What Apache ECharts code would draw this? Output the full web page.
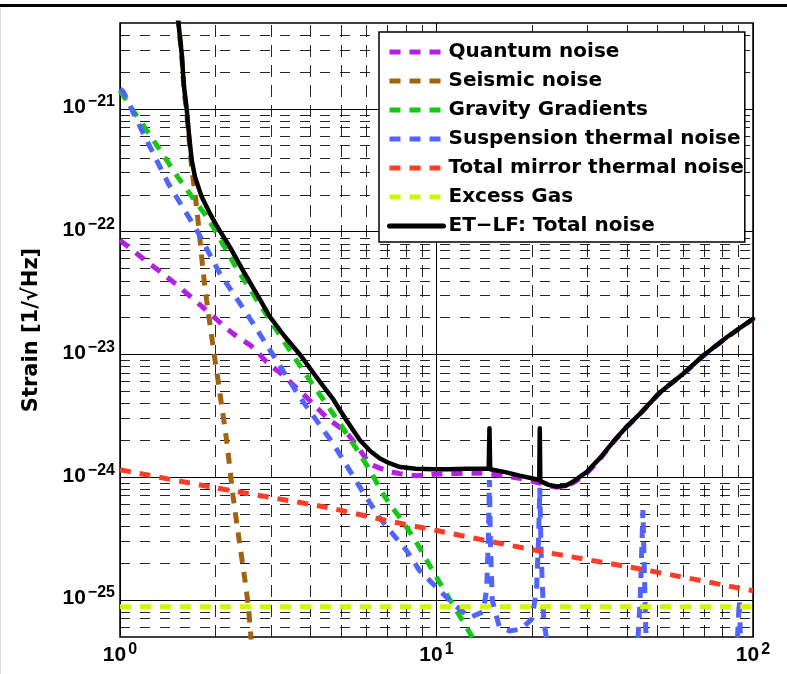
<!DOCTYPE html>
<html>
<head>
<meta charset="utf-8">
<script src="https://cdn.jsdelivr.net/npm/echarts@6/dist/echarts.min.js"></script>
<style>
  html, body { margin: 0; padding: 0; background: #fff; }
  #chart { width: 787px; height: 674px; }
</style>
</head>
<body>
<div id="chart"></div>
<script>
// ---- data (frequency in Hz, strain in 1/sqrt(Hz)) ----
const quantumF = [1, 1.182, 1.491, 1.828, 2.274, 2.632, 2.917, 3.2, 3.626, 4.07, 4.51, 5.22, 5.74, 6.17, 6.97, 7.66, 8.66, 10.0, 13.7, 18.3, 20.7, 24, 27, 29.8, 33, 36.2, 40, 44, 50.9, 60.2, 69.7, 82.6, 100];
const quantumH = [8.5e-23, 6.05e-23, 3.79e-23, 2.42e-23, 1.48e-23, 1.14e-23, 8.6e-24, 7.1e-24, 5.3e-24, 3.98e-24, 3.06e-24, 2.27e-24, 1.65e-24, 1.29e-24, 1.13e-24, 1.07e-24, 1.03e-24, 1.06e-24, 1.08e-24, 9.8e-25, 9.1e-25, 8.3e-25, 9.0e-25, 1.08e-24, 1.43e-24, 1.93e-24, 2.58e-24, 3.28e-24, 4.9e-24, 6.95e-24, 9.75e-24, 1.37e-23, 1.94e-23];

const seismicF = [1.5, 1.53, 1.566, 1.593, 1.624, 1.655, 1.685, 1.72, 1.755, 1.79, 1.835, 1.879, 1.972, 2.069, 2.172, 2.275, 2.394, 2.483, 2.544, 2.594, 2.62];
const seismicH = [8.3e-21, 4.9e-21, 2.75e-21, 1.45e-21, 9.4e-22, 5.4e-22, 3.3e-22, 2.2e-22, 1.4e-22, 8.5e-23, 4.5e-23, 2.75e-23, 1.12e-23, 4.81e-24, 1.99e-24, 7.1e-25, 2.77e-25, 1.44e-25, 8.8e-26, 4.9e-26, 3.5e-26];

const gravityF = [1.0, 1.099, 1.306, 1.548, 1.925, 2.337, 3.127, 3.98, 4.96, 6.17, 6.78, 8.45, 10.0, 13.0, 14.0];
const gravityH = [1.4e-21, 9.75e-22, 5.06e-22, 2.62e-22, 1.2e-22, 5.03e-23, 1.57e-23, 6.14e-24, 2.72e-24, 1.13e-24, 7.3e-25, 3.24e-25, 1.53e-25, 4.96e-26, 3.5e-26];

const suspensionF = [1.0, 1.024, 1.171, 1.421, 1.747, 2.069, 2.515, 2.98, 3.7, 4.72, 5.73, 6.6, 7.13, 8.05, 8.85, 10.0, 11.3, 12.75, 14.0, 14.4, 14.6, 14.7, 14.8, 15.0, 15.8, 17.0, 18.5, 20.0, 20.7, 21.0, 21.2, 21.4, 21.8, 22.5, 30, 43, 44, 44.5, 44.9, 45.3, 45.8, 46.5, 60, 85, 89, 90.5, 91.5, 100];
const suspensionH = [1.45e-21, 1.38e-21, 6.7e-22, 2.46e-22, 1.03e-22, 4.55e-23, 2.15e-23, 1.08e-23, 4.49e-24, 1.87e-24, 8.28e-25, 4.7e-25, 3.67e-25, 2.52e-25, 1.73e-25, 1.27e-25, 9.3e-26, 7.2e-26, 8.0e-26, 1.2e-25, 3.5e-25, 9.5e-25, 3.0e-25, 1.0e-25, 6.0e-26, 5.6e-26, 5.8e-26, 7.0e-26, 1.2e-25, 3.0e-25, 8.2e-25, 2.5e-25, 7e-26, 4e-26, 2.5e-26, 3.5e-26, 1.0e-25, 2.5e-25, 5.4e-25, 2e-25, 6e-26, 3e-26, 2e-26, 2e-26, 4e-26, 1.0e-25, 4e-26, 2e-26];

const mirrorF = [1, 2, 4.47, 6.6, 10, 21.2, 44, 100];
const mirrorH = [1.15e-24, 8.2e-25, 5.7e-25, 4.57e-25, 3.68e-25, 2.5e-25, 1.79e-25, 1.19e-25];

const gasF = [1, 10, 100];
const gasH = [8.8e-26, 8.8e-26, 8.8e-26];

const totalF = [1.50, 1.53, 1.566, 1.593, 1.624, 1.655, 1.685, 1.726, 1.812, 1.925, 2.02, 2.23, 2.45, 2.77, 2.98, 3.3, 3.7, 4.2, 4.72, 5.2, 5.73, 6.2, 6.63, 7.1, 7.67, 8.6, 9.73, 11, 12.5, 14.62, 14.7, 14.78, 16.5, 18.3, 20.0, 21.12, 21.2, 21.28, 22.5, 24.0, 25.5, 27, 29.8, 33, 36.2, 40, 44, 50.9, 60.2, 69.7, 82.6, 100];
const totalH = [8.5e-21, 5.0e-21, 2.83e-21, 1.51e-21, 1.0e-21, 5.9e-22, 3.82e-22, 2.79e-22, 1.92e-22, 1.40e-22, 1.12e-22, 7.4e-23, 4.8e-23, 2.8e-23, 2.01e-23, 1.42e-23, 1.0e-23, 6.4e-24, 4.3e-24, 2.9e-24, 2.0e-24, 1.62e-24, 1.42e-24, 1.3e-24, 1.21e-24, 1.17e-24, 1.16e-24, 1.16e-24, 1.17e-24, 1.17e-24, 2.5e-24, 1.16e-24, 1.1e-24, 1.03e-24, 9.8e-25, 9.5e-25, 2.5e-24, 9.3e-25, 8.7e-25, 8.4e-25, 8.5e-25, 9.2e-25, 1.1e-24, 1.45e-24, 1.95e-24, 2.6e-24, 3.3e-24, 4.93e-24, 6.97e-24, 9.8e-24, 1.38e-23, 1.95e-23];

// axis ranges and gridline positions
const xMin = 1, xMax = 100;
const yMin = 5e-26, yMax = 5e-21;
const xMinorTicks = [2, 3, 4, 5, 6, 7, 8, 9, 20, 30, 40, 50, 60, 70, 80, 90];
const yMinorMantissas = [2, 3, 4, 5, 6, 7, 8, 9];
const yDecades = [-26, -25, -24, -23, -22, -21];

const seriesNames = ['Quantum noise', 'Seismic noise', 'Gravity Gradients', 'Suspension thermal noise', 'Total mirror thermal noise', 'Excess Gas', 'ET\u2212LF: Total noise'];
const seriesColors = ['#B41EE6', '#A0640F', '#14C814', '#5064FF', '#FF3C28', '#D2F500', '#000000'];

// ---- build ----
function pairs(xs, ys) { return xs.map((x, i) => [x, ys[i]]); }

// minor gridline positions on the helper (exponent) axis
const yMinorExp = [];
yDecades.forEach(e => yMinorMantissas.forEach(m => {
  const v = m * Math.pow(10, e);
  if (v > yMin * 1.01 && v < yMax * 0.99) yMinorExp.push(e + Math.log10(m));
}));

function powLabel(v) {
  if (!(v > 0) || !isFinite(v)) return '';
  const e = Math.log10(v);
  const r = Math.round(e);
  if (Math.abs(e - r) > 1e-6) return '';
  const s = r < 0 ? '\u2212' + (-r) : String(r);
  return '{b|10}{e|' + s + '}';
}
const labelRich = {
  b: { fontFamily: 'Liberation Sans', fontWeight: 'bold', fontSize: 21, lineHeight: 24, color: '#000', verticalAlign: 'bottom' },
  e: { fontFamily: 'Liberation Sans', fontWeight: 'bold', fontSize: 16, lineHeight: 16, color: '#000', verticalAlign: 'top', padding: [0, 0, 14, 2] }
};

const dataSets = [
  pairs(quantumF, quantumH),
  pairs(seismicF, seismicH),
  pairs(gravityF, gravityH),
  pairs(suspensionF, suspensionH),
  pairs(mirrorF, mirrorH),
  pairs(gasF, gasH),
  pairs(totalF, totalH)
];

const series = dataSets.map((d, i) => ({
  name: seriesNames[i],
  type: 'line',
  data: d,
  symbol: 'none',
  showSymbol: false,
  animation: false,
  silent: true,
  smooth: (i === 3 || i === 6) ? false : 0.25,
  z: 2,
  lineStyle: i === 6
    ? { color: seriesColors[i], width: 4.5, type: 'solid', cap: 'round', join: 'round' }
    : { color: seriesColors[i], width: 5, type: [11, 9], cap: 'butt' },
  itemStyle: { color: seriesColors[i] }
}));

// minor dashed grid lines
series.unshift({
  name: '__grid',
  type: 'line',
  data: [],
  yAxisIndex: 1,
  z: 1,
  silent: true,
  animation: false,
  markLine: {
    z: 1,
    silent: true,
    animation: false,
    symbol: ['none', 'none'],
    label: { show: false },
    emphasis: { disabled: true },
    data: xMinorTicks.map(v => ({ xAxis: v, lineStyle: { type: [12, 8] } }))
      .concat(yMinorExp.map(v => ({ yAxis: v, lineStyle: { type: [10, 10] } }))),
    lineStyle: { color: '#000', width: 1, opacity: 0.85 }
  }
});

const chart = echarts.init(document.getElementById('chart'), null, { renderer: 'canvas' });
chart.setOption({
  animation: false,
  backgroundColor: '#fff',
  grid: {
    left: 120, right: 34, top: 23, bottom: 37,
    show: true, borderColor: '#000', borderWidth: 1.5, backgroundColor: '#fff',
    containLabel: false, outerBoundsMode: 'none'
  },
  xAxis: {
    type: 'log', logBase: 10, min: xMin, max: xMax,
    axisLine: { show: false },
    axisTick: { show: false },
    splitLine: { show: true, lineStyle: { color: '#000', width: 1, type: 'solid' } },
    minorTick: { show: false },
    axisLabel: { formatter: powLabel, rich: labelRich, margin: 5, verticalAlign: 'top' }
  },
  yAxis: [{
    type: 'log', logBase: 10, min: yMin, max: yMax,
    name: 'Strain [1/\u221AHz]',
    nameLocation: 'middle',
    nameGap: 78,
    nameMoveOverlap: false,
    nameTextStyle: { fontFamily: 'DejaVu Sans', fontWeight: 'bold', fontSize: 21, color: '#000' },
    axisLine: { show: false },
    axisTick: { show: false },
    splitLine: { show: true, lineStyle: { color: '#000', width: 1, type: 'solid' } },
    minorTick: { show: false },
    axisLabel: { formatter: powLabel, rich: labelRich, margin: 5, padding: [0, 0, 6, 0] }
  }, {
    type: 'value', min: Math.log10(yMin), max: Math.log10(yMax), show: false,
    splitLine: { show: false }, axisLabel: { show: false }
  }],
  legend: {
    show: true,
    z: 20,
    data: seriesNames,
    orient: 'vertical',
    left: 379, top: 32,
    align: 'left',
    padding: [10, 1, 6, 8],
    itemGap: 9,
    itemWidth: 54,
    itemHeight: 14,
    backgroundColor: '#fff',
    borderColor: '#000',
    borderWidth: 1.5,
    borderRadius: 0,
    selectedMode: false,
    itemStyle: { opacity: 0, borderWidth: 0 },
    lineStyle: { width: 5 },
    textStyle: { fontFamily: 'DejaVu Sans', fontWeight: 'bold', fontSize: 20, lineHeight: 20, color: '#000' }
  },
  graphic: [
    { type: 'rect', left: 0, top: 4, shape: { width: 787, height: 3 }, style: { fill: '#000' }, z: 100 },
    { type: 'rect', left: 0, top: 7, shape: { width: 1, height: 667 }, style: { fill: '#ddd' }, z: 100 }
  ],
  series: series
});
</script>
</body>
</html>
